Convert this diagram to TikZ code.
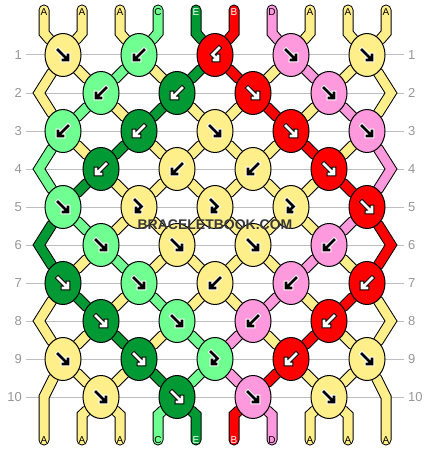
\documentclass[tikz,border=0pt]{standalone}
\usepackage{fontspec}
\setmainfont{Liberation Sans}
\usetikzlibrary{shapes.geometric,backgrounds}

% thread colours (named after the thread letters)
\definecolor{threadA}{RGB}{255,239,139}
\definecolor{threadB}{RGB}{255,0,0}
\definecolor{threadC}{RGB}{112,255,145}
\definecolor{threadD}{RGB}{255,153,221}
\definecolor{threadE}{RGB}{0,153,51}
\definecolor{rowGray}{RGB}{190,190,190}
\definecolor{numGray}{RGB}{150,150,150}

\tikzset{
  knot/.style={ellipse, draw=black, line width=1pt, fill=#1,
    minimum width=36pt, minimum height=43pt, inner sep=0pt},
  strand/.style={draw=black, line width=1pt, double=#1, double distance=9pt, line cap=round},
  rowline/.style={draw=rowGray, line width=1pt},
  rownum/.style={font=\fontsize{13}{13}\selectfont, text=numGray, inner sep=0pt},
  threadlabel/.style={font=\fontsize{10}{10}\selectfont, inner sep=0pt},
  arrow halo/.style={draw=white, line width=4.6pt, line cap=rect},
  arrow core/.style={draw=black, line width=2.6pt, line cap=rect},
  lightink/.style={},
  darkink/.style={arrow halo/.append style={draw=black}, arrow core/.append style={draw=white}},
  fwd/.pic={
    \draw[arrow halo] (-5,-5) -- (4,4) (0,5) -- (5,5) -- (5,0);
    \draw[arrow core] (-5,-5) -- (4,4) (0,5) -- (5,5) -- (5,0);
  },
  bwd/.pic={
    \draw[arrow halo] (5,-5) -- (-4,4) (0,5) -- (-5,5) -- (-5,0);
    \draw[arrow core] (5,-5) -- (-4,4) (0,5) -- (-5,5) -- (-5,0);
  },
  fb/.pic={
    \draw[arrow halo] (-4,-7) -- (2.5,-0.5) -- (-2.2,4.2) (1,5) -- (-3,5) -- (-3,1);
    \draw[arrow core] (-4,-7) -- (2.5,-0.5) -- (-2.2,4.2) (1,5) -- (-3,5) -- (-3,1);
  },
  bf/.pic={
    \draw[arrow halo] (4,-7) -- (-2.5,-0.5) -- (2.2,4.2) (-1,5) -- (3,5) -- (3,1);
    \draw[arrow core] (4,-7) -- (-2.5,-0.5) -- (2.2,4.2) (-1,5) -- (3,5) -- (3,1);
  },
}

\begin{document}
\begin{tikzpicture}[x=1pt, y=-1pt]
  \useasboundingbox (0,0) rectangle (430,452);

  % row numbers
  \foreach \r in {1,...,10} {
    \node[rownum, anchor=east] (nl\r) at (22, 17+38*\r) {\r};
    \node[rownum, anchor=west] (nr\r) at (408, 17+38*\r) {\r};
  }

  % thread ends and labels
  \foreach \i/\l/\tc in {0/A/black, 1/A/black, 2/A/black, 3/C/black, 4/E/white,
                         5/B/white, 6/D/black, 7/A/black, 8/A/black, 9/A/black} {
    \coordinate (t\i) at (44+38*\i, 10);
    \coordinate (tb\i) at (44+38*\i, 33);
    \coordinate (bb\i) at (44+38*\i, 415);
    \coordinate (b\i) at (44+38*\i, 440);
    \node[threadlabel, text=\tc] (lt\i) at (44+38*\i, 12) {\l};
    \node[threadlabel, text=\tc] (lb\i) at (44+38*\i, 440) {\l};
  }
  \coordinate (bb0) at (44, 397);
  \coordinate (bb9) at (386, 397);

  % edge turns
  \foreach \r in {2,4,6,8} {
    \coordinate (zl\r) at (39, 17+38*\r);
    \coordinate (zr\r) at (391, 17+38*\r);
  }

  % knots
  \foreach \r/\k/\c/\t/\a in {
      1/1/A/fwd/lightink, 1/2/C/bwd/lightink, 1/3/B/bf/darkink, 1/4/D/fwd/lightink, 1/5/A/fwd/lightink,
      2/1/C/bwd/lightink, 2/2/E/bwd/darkink, 2/3/B/fwd/darkink, 2/4/D/fwd/lightink,
      3/1/C/bwd/lightink, 3/2/E/bwd/darkink, 3/3/A/fwd/lightink, 3/4/B/fwd/darkink, 3/5/D/fwd/lightink,
      4/1/E/bwd/darkink, 4/2/A/bwd/lightink, 4/3/A/bwd/lightink, 4/4/B/fwd/darkink,
      5/1/C/fwd/lightink, 5/2/A/fb/lightink, 5/3/A/fb/lightink, 5/4/A/fb/lightink, 5/5/B/fwd/darkink,
      6/1/C/fwd/lightink, 6/2/A/fwd/lightink, 6/3/A/fwd/lightink, 6/4/D/bwd/lightink,
      7/1/E/fwd/darkink, 7/2/C/fwd/lightink, 7/3/A/bwd/lightink, 7/4/D/bwd/lightink, 7/5/B/bwd/darkink,
      8/1/E/fwd/darkink, 8/2/C/fwd/lightink, 8/3/D/bwd/lightink, 8/4/B/bwd/darkink,
      9/1/A/fwd/lightink, 9/2/E/fwd/darkink, 9/3/C/fb/lightink, 9/4/B/bwd/darkink, 9/5/A/fwd/lightink,
      10/1/A/fwd/lightink, 10/2/E/fwd/darkink, 10/3/D/fwd/lightink, 10/4/A/fwd/lightink} {
    \pgfmathsetmacro{\kx}{63+38*mod(\r+1,2)+76*(\k-1)}
    \node[knot=thread\c] (k-\r-\k) at (\kx, 17+38*\r) {};
    \pic[\a] at (k-\r-\k) {\t};
  }

  \begin{scope}[on background layer]
    \foreach \r in {1,...,10}
      \draw[rowline] ([xshift=4pt]nl\r.east) -- ([xshift=-4pt]nr\r.west);

    % threads
    \draw[strand=threadA] (t0) -- (tb0) -- (k-1-1) -- (k-2-1) -- (k-3-2) -- (k-4-2) -- (k-5-3)
      -- (k-6-2) -- (k-7-2) -- (k-8-1) -- (k-9-1) -- (bb0) -- (b0);
    \draw[strand=threadA] (t1) -- (tb1) -- (k-1-1) -- (zl2) -- (k-3-1) -- (k-4-1) -- (k-5-2)
      -- (k-6-1) -- (k-7-1) -- (zl8) -- (k-9-1) -- (k-10-1) -- (bb2) -- (b2);
    \draw[strand=threadA] (t2) -- (tb2) -- (k-1-2) -- (k-2-2) -- (k-3-3) -- (k-4-3) -- (k-5-4)
      -- (k-6-3) -- (k-7-3) -- (k-8-2) -- (k-9-2) -- (k-10-1) -- (bb1) -- (b1);
    \draw[strand=threadC] (t3) -- (tb3) -- (k-1-2) -- (k-2-1) -- (k-3-1) -- (zl4) -- (k-5-1)
      -- (k-6-1) -- (k-7-2) -- (k-8-2) -- (k-9-3) -- (k-10-2) -- (bb3) -- (b3);
    \draw[strand=threadE] (t4) -- (tb4) -- (k-1-3) -- (k-2-2) -- (k-3-2) -- (k-4-1) -- (k-5-1)
      -- (zl6) -- (k-7-1) -- (k-8-1) -- (k-9-2) -- (k-10-2) -- (bb4) -- (b4);
    \draw[strand=threadB] (t5) -- (tb5) -- (k-1-3) -- (k-2-3) -- (k-3-4) -- (k-4-4) -- (k-5-5)
      -- (zr6) -- (k-7-5) -- (k-8-4) -- (k-9-4) -- (k-10-3) -- (bb5) -- (b5);
    \draw[strand=threadD] (t6) -- (tb6) -- (k-1-4) -- (k-2-4) -- (k-3-5) -- (zr4) -- (k-5-5)
      -- (k-6-4) -- (k-7-4) -- (k-8-3) -- (k-9-3) -- (k-10-3) -- (bb6) -- (b6);
    \draw[strand=threadA] (t7) -- (tb7) -- (k-1-4) -- (k-2-3) -- (k-3-3) -- (k-4-2) -- (k-5-2)
      -- (k-6-2) -- (k-7-3) -- (k-8-3) -- (k-9-4) -- (k-10-4) -- (bb8) -- (b8);
    \draw[strand=threadA] (t8) -- (tb8) -- (k-1-5) -- (zr2) -- (k-3-5) -- (k-4-4) -- (k-5-4)
      -- (k-6-4) -- (k-7-5) -- (zr8) -- (k-9-5) -- (k-10-4) -- (bb7) -- (b7);
    \draw[strand=threadA] (t9) -- (tb9) -- (k-1-5) -- (k-2-4) -- (k-3-4) -- (k-4-3) -- (k-5-3)
      -- (k-6-3) -- (k-7-4) -- (k-8-4) -- (k-9-5) -- (bb9) -- (b9);
  \end{scope}

  % watermark
  \node[font=\bfseries\fontsize{14}{14}\selectfont, text=black!78] (mark) at (215,225) {BRACELETBOOK.COM};
\end{tikzpicture}
\end{document}
